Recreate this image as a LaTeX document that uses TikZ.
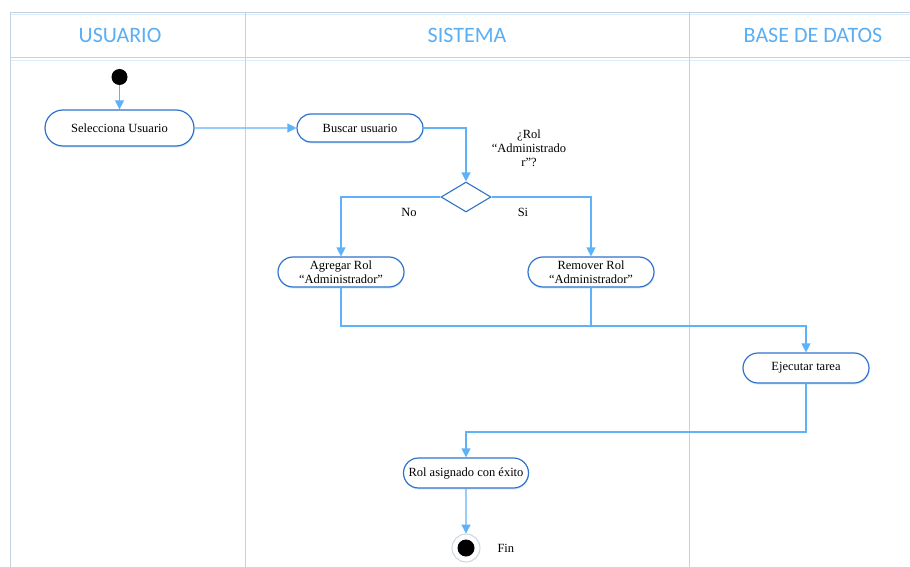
\documentclass[tikz,border=0pt]{standalone}
\usepackage{fontspec}
\setmainfont{Liberation Serif}
\newfontfamily\headfont{Carlito}
\usetikzlibrary{arrows.meta,shapes.geometric,shapes.misc,shadows}
\definecolor{laneline}{HTML}{C3D2DC}
\definecolor{headblue}{HTML}{5AAEF4}
\definecolor{flowblue}{HTML}{5FB2F7}
\definecolor{boxblue}{HTML}{2F72CC}
\definecolor{glow}{HTML}{DCEEFC}
\tikzset{
  lane/.style={draw=laneline, line width=0.9pt},
  header/.style={font=\headfont\fontsize{22}{26}\selectfont, text=headblue},
  action/.style={draw=boxblue, line width=1.2pt, rounded rectangle, fill=white,
    minimum height=30pt, minimum width=126pt, align=center, inner xsep=0pt, inner ysep=2pt,
    font=\fontsize{12.5}{14}\selectfont,
    drop shadow={shadow xshift=0.6pt, shadow yshift=-1.6pt, fill=glow, opacity=1}},
  decision/.style={draw=boxblue, line width=1.1pt, diamond, fill=white,
    minimum width=50pt, minimum height=30pt, inner sep=0pt, aspect=1.67},
  flow/.style={draw=flowblue, line width=1.2pt, -{Triangle[length=9pt,width=9pt]}},
  flowplain/.style={draw=flowblue, line width=1.2pt},
  lbl/.style={font=\fontsize{12.5}{14}\selectfont, align=center},
}
\begin{document}
\begin{tikzpicture}[x=1pt,y=-1pt]
\useasboundingbox (0,0) rectangle (910,567);
% swimlane frame
\draw[lane] (10,12) -- (910,12);
\draw[draw=glow, line width=0.8pt] (10,14) -- (910,14);
\draw[lane] (10,57) -- (910,57);
\draw[draw=glow, line width=0.9pt] (10,60.5) -- (910,60.5);
\draw[lane] (10,12) -- (10,567);
\draw[lane] (245,12) -- (245,567);
\draw[lane] (689,12) -- (689,567);
\node[header] (hU) at (120,35) {USUARIO};
\node[header] (hS) at (467,35) {SISTEMA};
\node[header] (hB) at (813,35) {BASE DE DATOS};

% nodes
\node[circle, fill=black, minimum size=16pt, inner sep=0pt] (start) at (119.5,77) {};
\node[action, minimum height=36pt, minimum width=149pt] (sel) at (119.5,128) {Selecciona Usuario};
\node[action, minimum height=28pt] (bus) at (360,128) {Buscar usuario};
\node[decision] (dec) at (466,197) {};
\node[lbl] (q) at (529,148) {¿Rol\\“Administrado\\r”?};
\node[action] (agr) at (341,272) {Agregar Rol\\“Administrador”};
\node[action] (rem) at (591,272) {Remover Rol\\“Administrador”};
\node[lbl] (no) at (409,212) {No};
\node[lbl] (si) at (523,212) {Si};
\node[action] (eje) at (806,368) {Ejecutar tarea};
\node[action, minimum width=125pt] (rol) at (466,473) {Rol asignado con éxito};
\node[circle, draw=laneline, line width=0.9pt, fill=white, minimum size=28pt, inner sep=0pt] (fin) at (466,548) {};
\node[circle, fill=black, minimum size=17pt, inner sep=0pt] (finin) at (fin) {};
\node[lbl, anchor=west] (finl) at (494,548) {Fin};
\coordinate (join) at (806,326);
\coordinate (back) at (466,432);

% connectors
\draw[flow] (start) -- (sel);
\draw[flow] (sel) -- (bus);
\draw[flow] (bus.east) -| (dec.north);
\draw[flow] (dec.west) -| (agr.north);
\draw[flow] (dec.east) -| (rem.north);
\draw[flow] (agr.south) |- (join) -- (eje.north);
\draw[flowplain] (rem.south) -- (rem.south |- join);
\draw[flow] (eje.south) |- (back) -- (rol.north);
\draw[flow] (rol) -- (fin);
\end{tikzpicture}
\end{document}
